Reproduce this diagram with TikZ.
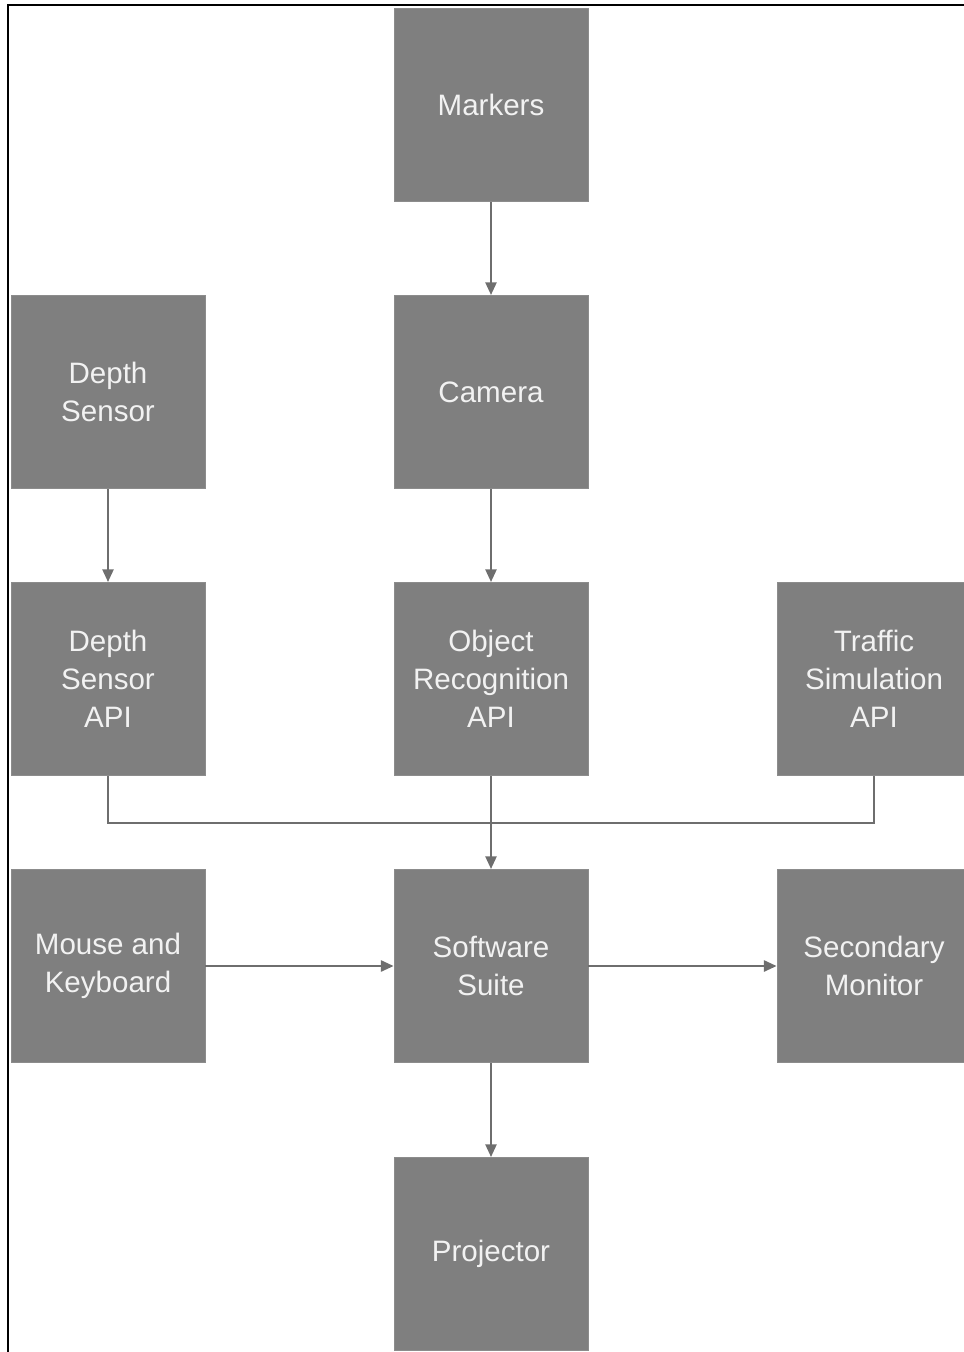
\documentclass[tikz,border=0pt]{standalone}
\usepackage{fontspec}
\setmainfont{Liberation Sans}
\usetikzlibrary{arrows.meta}
\definecolor{boxgray}{HTML}{7F7F7F}
\definecolor{boxedge}{HTML}{8C8C8C}
\definecolor{linegray}{HTML}{6E6E6E}
\definecolor{labelwhite}{HTML}{F2F2F2}

\begin{document}
\begin{tikzpicture}[x=0.025cm, y=-0.025cm]
        % ================= styles =================
        \tikzset{
            % grey square block with light text
            block/.style={rectangle, draw=boxedge, line width=0.6pt, fill=boxgray,
                minimum width=4.85cm, minimum height=4.83cm, inner sep=0pt,
                align=center, text=labelwhite,
                font=\fontsize{21}{27}\selectfont},
            % grey connector
            flow_line/.style={line width=1.3pt, linegray},
            % grey connector with triangle head
            flow_arrow/.style={flow_line, -{Triangle[length=9pt, width=8pt]}}
        }

        % page frame
        \useasboundingbox (0,0) rectangle (964,1352);
        \clip (0,0) rectangle (964,1352);
        \draw[line width=1.5pt, black] (8,1352) -- (8,5) -- (964,5);

        % ================= blocks (column x = 108 / 491 / 874) =================
        \node[block] (markers) at (491,105) {Markers};

        \node[block] (depth) at (108,392) {Depth\\Sensor};
        \node[block] (camera) at (491,392) {Camera};

        \node[block] (depthapi) at (108,679) {Depth\\Sensor\\API};
        \node[block] (objapi) at (491,679) {Object\\Recognition\\API};
        \node[block] (trafficapi) at (874,679) {Traffic\\Simulation\\API};

        \node[block] (mouse) at (108,966) {Mouse and\\Keyboard};
        \node[block] (suite) at (491,966) {Software\\Suite};
        \node[block] (monitor) at (874,966) {Secondary\\Monitor};

        \node[block] (projector) at (491,1254) {Projector};

        % ================= connectors =================
        \draw[flow_arrow] (markers) -- (camera);
        \draw[flow_arrow] (depth) -- (depthapi);
        \draw[flow_arrow] (camera) -- (objapi);

        % the two side APIs merge into one bus line
        \coordinate (bus) at (491,823);
        \draw[flow_line] (depthapi.south) |- (bus) -| (trafficapi.south);
        \draw[flow_arrow] (objapi) -- (suite);

        \draw[flow_arrow] (mouse) -- (suite);
        \draw[flow_arrow] (suite) -- (monitor);
        \draw[flow_arrow] (suite) -- (projector);

    \end{tikzpicture}
\end{document}
